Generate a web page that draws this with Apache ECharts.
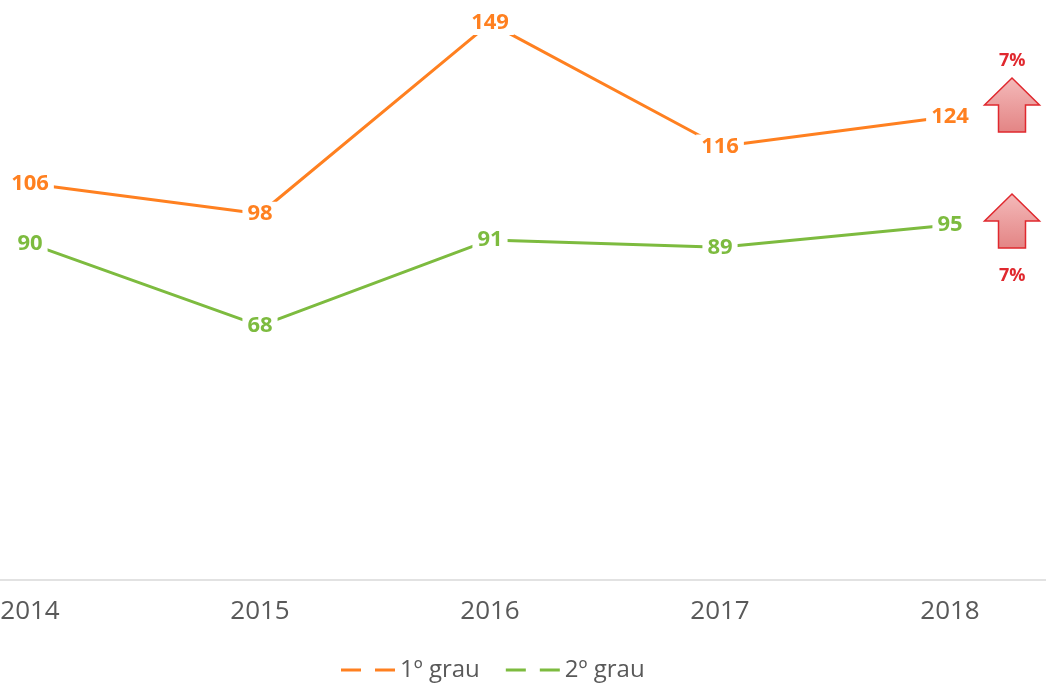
<!DOCTYPE html>
<html>
<head>
<meta charset="utf-8">
<title>Evolução por grau</title>
<script src="https://cdn.jsdelivr.net/npm/echarts@6/dist/echarts.min.js"></script>
<style>
  html, body { margin: 0; padding: 0; background: #fff; }
  #chart { width: 1046px; height: 684px; }
</style>
</head>
<body>
<div id="chart"></div>
<script>
// Anos e valores de cada série
const years = ['2014', '2015', '2016', '2017', '2018'];
const grau1 = [106, 98, 149, 116, 124];
const grau2 = [90, 68, 91, 89, 95];
const seriesNames = ['1º grau', '2º grau'];

const orange = '#FF8020';
const green = '#7DBB3F';
const arrowRed = '#E0282E';

// Variação percentual do último ano face ao anterior
function growth(arr) {
  const n = arr.length;
  return Math.round((arr[n - 1] / arr[n - 2] - 1) * 100) + '%';
}

const chart = echarts.init(document.getElementById('chart'), null, { renderer: 'canvas' });

const labelStyle = (color) => ({
  show: true,
  position: 'inside',
  offset: [0, 4],
  color: color,
  fontFamily: 'Open Sans',
  fontWeight: 'bold',
  fontSize: 22,
  backgroundColor: '#ffffff',
  padding: [1, 5]
});

// Seta para cima (bloco) com gradiente, vértices relativos ao topo
function upArrow(x, y) {
  const w = 55, headH = 27, shaftW = 27, totalH = 54;
  const cx = x;
  return {
    type: 'polygon',
    shape: {
      points: [
        [cx, y],
        [cx + w / 2, y + headH],
        [cx + shaftW / 2, y + headH],
        [cx + shaftW / 2, y + totalH],
        [cx - shaftW / 2, y + totalH],
        [cx - shaftW / 2, y + headH],
        [cx - w / 2, y + headH]
      ]
    },
    style: {
      fill: new echarts.graphic.LinearGradient(0, 0, 0, 1, [
        { offset: 0, color: '#F4BABA' },
        { offset: 1, color: '#E38484' }
      ]),
      stroke: arrowRed,
      lineWidth: 1.5
    },
    z: 10
  };
}

const option = {
  backgroundColor: '#ffffff',
  animation: false,
  grid: {
    left: -85, right: -19, top: -18, bottom: 104,
    containLabel: false,
    outerBoundsMode: 'none'
  },
  xAxis: {
    type: 'category',
    data: years,
    boundaryGap: true,
    axisTick: { show: false },
    axisLine: { lineStyle: { color: '#D9D9D9', width: 1.5 } },
    axisLabel: {
      color: '#595959',
      fontFamily: 'Open Sans',
      fontSize: 26,
      margin: 19
    }
  },
  yAxis: {
    type: 'value',
    min: 0,
    max: 160,
    show: false,
    splitLine: { show: false }
  },
  legend: {
    data: seriesNames,
    top: 658,
    left: 341,
    padding: 0,
    itemWidth: 54,
    itemHeight: 3,
    itemGap: 26,
    icon: 'path://M0,0H20V3H0Z M34,0H54V3H34Z',
    textStyle: {
      color: '#595959',
      fontFamily: 'Open Sans',
      fontSize: 24
    }
  },
  series: [
    {
      name: seriesNames[0],
      type: 'line',
      data: grau1,
      color: orange,
      symbol: 'circle',
      symbolSize: 0.1,
      showSymbol: true,
      itemStyle: { color: orange },
      lineStyle: { color: orange, width: 3 },
      label: labelStyle(orange),
      labelLayout: { hideOverlap: false },
      z: 3
    },
    {
      name: seriesNames[1],
      type: 'line',
      data: grau2,
      color: green,
      symbol: 'circle',
      symbolSize: 0.1,
      showSymbol: true,
      itemStyle: { color: green },
      lineStyle: { color: green, width: 3 },
      label: labelStyle(green),
      labelLayout: { hideOverlap: false },
      z: 2
    }
  ],
  graphic: [
    upArrow(1012, 78),
    upArrow(1012, 194),
    {
      type: 'text',
      left: 1015 - 16, top: 52,
      style: { text: growth(grau1), fill: arrowRed, font: 'bold 18px "Open Sans"' },
      z: 10
    },
    {
      type: 'text',
      left: 1015 - 16, top: 267,
      style: { text: growth(grau2), fill: arrowRed, font: 'bold 18px "Open Sans"' },
      z: 10
    }
  ]
};

chart.setOption(option);
</script>
</body>
</html>
